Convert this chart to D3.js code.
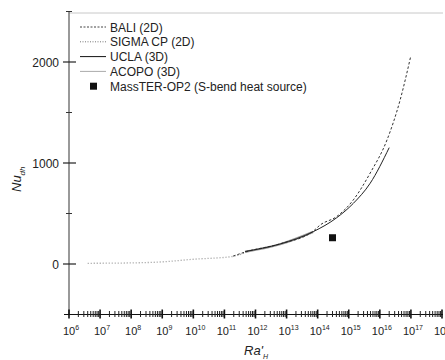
<!DOCTYPE html>
<html>
<head>
<meta charset="utf-8">
<script src="https://cdn.jsdelivr.net/npm/d3@7"></script>
<style>
  body { margin: 0; background: #fff; }
  text { font-family: "Liberation Sans", Arial, sans-serif; }
</style>
</head>
<body>
<svg id="chart" width="445" height="360"></svg>
<script>
// values (Ra'_H, Nu_dh)
let baliRa  = [1.9e11, 4.6e11, 6.2e12, 7.2e13, 1.2e14, 4.1e14, 1.4e15, 4.9e15, 1.7e16, 4.5e16, 9.8e16];
let baliNu  = [78, 118, 200, 325, 386, 470, 634, 901, 1228, 1624, 2053];
let sigmaRa = [4e6, 7.2e7, 8.5e8, 1e10, 1.9e11, 4.6e11];
let sigmaNu = [7, 10, 20, 47, 75, 112];
let uclaRa  = [4.6e11, 6.2e12, 7.2e13, 4.1e14, 1.4e15, 4.9e15, 2.0e16];
let uclaNu  = [124, 198, 320, 458, 600, 800, 1152];
let acopoRa = [4.6e11, 6.2e12, 7.2e13];
let acopoNu = [120, 195, 318];
let massterRa = [3e14];
let massterNu = [260];

let legendLabels = ["BALI (2D)", "SIGMA CP (2D)", "UCLA (3D)", "ACOPO (3D)", "MassTER-OP2 (S-bend heat source)"];
let yMajor = [0, 1000, 2000];
let yMinor = [500, 1500, 2500];

let svg = d3.select("#chart");
let x = d3.scaleLog().domain([1e6, 1e18]).range([69, 442]);
let y = d3.scaleLinear().domain([-500, 2500]).range([314.5, 11.5]);

// top frame line
svg.append("line")
  .attr("x1", 69).attr("x2", 443).attr("y1", 13).attr("y2", 13)
  .attr("stroke", "#c8c8c8").attr("stroke-width", 1);

// y axis
svg.append("line")
  .attr("x1", 69).attr("x2", 69).attr("y1", y(2500)).attr("y2", y(-500))
  .attr("stroke", "#555").attr("stroke-width", 1.2);
yMajor.forEach(v => {
  svg.append("line").attr("x1", 63).attr("x2", 76).attr("y1", y(v)).attr("y2", y(v))
    .attr("stroke", "#222").attr("stroke-width", 1.2);
  svg.append("text").attr("x", 59).attr("y", y(v) + 4.5)
    .attr("text-anchor", "end").attr("font-size", 12).attr("fill", "#222").text(v);
});
yMinor.forEach(v => {
  svg.append("line").attr("x1", 66).attr("x2", 72).attr("y1", y(v)).attr("y2", y(v))
    .attr("stroke", "#333").attr("stroke-width", 1);
});

// x axis
svg.append("line")
  .attr("x1", 64).attr("x2", 443).attr("y1", y(-500)).attr("y2", y(-500))
  .attr("stroke", "#111").attr("stroke-width", 1.2);
let ay = y(-500);
for (let e = 6; e <= 18; e++) {
  svg.append("line").attr("x1", x(Math.pow(10, e))).attr("x2", x(Math.pow(10, e)))
    .attr("y1", ay - 5).attr("y2", ay + 4).attr("stroke", "#111").attr("stroke-width", 1.6);
  let t = svg.append("text").attr("x", x(Math.pow(10, e)) + 2).attr("y", 335)
    .attr("text-anchor", "middle").attr("font-size", 11).attr("fill", "#222");
  t.append("tspan").text("10");
  t.append("tspan").attr("dy", -5).attr("font-size", 7).text(e);
  if (e < 18) {
    for (let m = 2; m <= 9; m++) {
      let xv = x(m * Math.pow(10, e));
      svg.append("line").attr("x1", xv).attr("x2", xv)
        .attr("y1", ay - 3.5).attr("y2", ay + 2.5).attr("stroke", "#222").attr("stroke-width", 1);
    }
  }
}

// axis titles
let xt = svg.append("text").attr("x", 244).attr("y", 355)
  .attr("font-size", 13).attr("font-style", "italic").attr("fill", "#222");
xt.append("tspan").text("Ra'");
xt.append("tspan").attr("dy", 4).attr("font-size", 7).text("H");

let yt = svg.append("text").attr("transform", "translate(21,192) rotate(-90)")
  .attr("font-size", 13).attr("font-style", "italic").attr("fill", "#222");
yt.append("tspan").text("Nu");
yt.append("tspan").attr("dy", 4).attr("font-size", 8).text("dh");

// curves
let line = d3.line().x(d => x(d[0])).y(d => y(d[1])).curve(d3.curveMonotoneX);
let zip = (a, b) => a.map((v, i) => [v, b[i]]);

svg.append("path").datum(zip(acopoRa, acopoNu)).attr("d", line)
  .attr("fill", "none").attr("stroke", "#999").attr("stroke-width", 2.2);
svg.append("path").datum(zip(sigmaRa, sigmaNu)).attr("d", line)
  .attr("fill", "none").attr("stroke", "#999").attr("stroke-width", 1.3).attr("stroke-dasharray", "1,2");
svg.append("path").datum(zip(baliRa, baliNu)).attr("d", line)
  .attr("fill", "none").attr("stroke", "#333").attr("stroke-width", 1).attr("stroke-dasharray", "2.5,2");
svg.append("path").datum(zip(uclaRa, uclaNu)).attr("d", line)
  .attr("fill", "none").attr("stroke", "#222").attr("stroke-width", 1);

svg.selectAll("rect.masster").data(zip(massterRa, massterNu)).enter().append("rect")
  .attr("class", "masster")
  .attr("x", d => x(d[0]) - 3.5).attr("y", d => y(d[1]) - 3.5)
  .attr("width", 7).attr("height", 7).attr("fill", "#111");

// legend
let legStyles = [
  {stroke: "#444", dash: "2,1.5", w: 1},
  {stroke: "#777", dash: "1,1.5", w: 1},
  {stroke: "#111", dash: null, w: 1},
  {stroke: "#aaa", dash: null, w: 1},
  null
];
legendLabels.forEach((lab, i) => {
  let ly = 27 + i * 14.8;
  let s = legStyles[i];
  if (s) {
    svg.append("line").attr("x1", 80).attr("x2", 106).attr("y1", ly).attr("y2", ly)
      .attr("stroke", s.stroke).attr("stroke-width", s.w).attr("stroke-dasharray", s.dash);
  } else {
    svg.append("rect").attr("x", 90).attr("y", ly - 3.5).attr("width", 7).attr("height", 7).attr("fill", "#111");
  }
  svg.append("text").attr("x", 110).attr("y", ly + 4.5)
    .attr("font-size", 12).attr("fill", "#222").text(lab);
});
</script>
</body>
</html>
